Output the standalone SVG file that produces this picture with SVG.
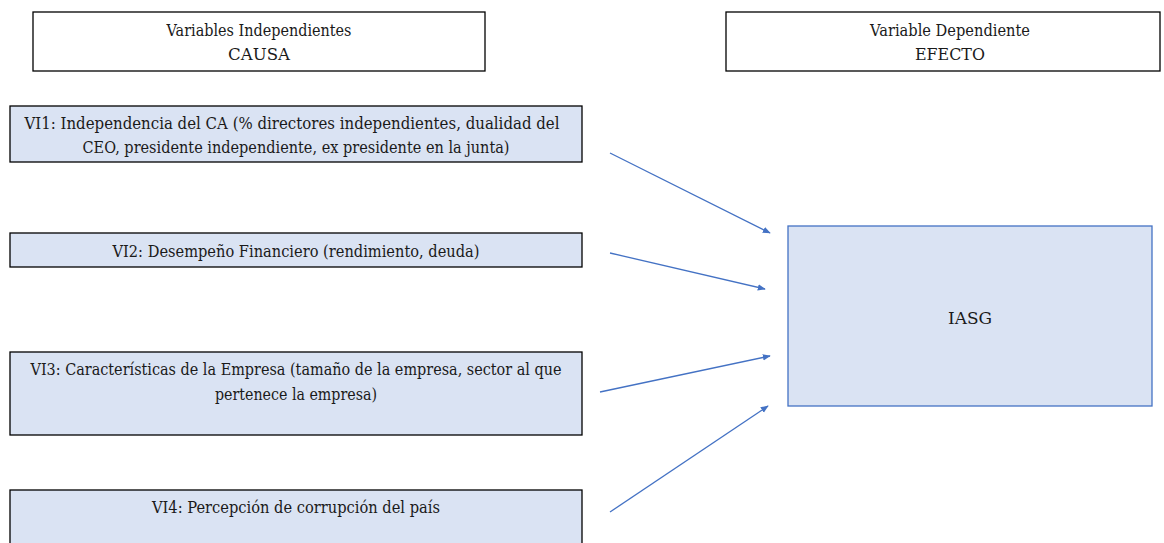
<svg xmlns="http://www.w3.org/2000/svg" width="1164" height="543" viewBox="0 0 1164 543">
<style>
.hdr{fill:#ffffff;stroke:#000000;stroke-width:1.3}
.vi{fill:#dae3f3;stroke:#000000;stroke-width:1.3}
.dep{fill:#dae3f3;stroke:#4472c4;stroke-width:1.3}
text{font-family:'DejaVu Serif',serif;font-size:17px;fill:#1a1a1a;text-anchor:middle}
.conn line{stroke:#4472c4;stroke-width:1.3;marker-end:url(#arr)}
</style>
<defs>
<marker id="arr" viewBox="0 0 10 10" refX="9" refY="5" markerWidth="8" markerHeight="8" orient="auto" markerUnits="userSpaceOnUse">
<path d="M0,1 L10,5 L0,9 z" fill="#4472c4"/>
</marker>
</defs>
<g id="hdr-causa">
<rect class="hdr" x="33" y="12" width="452" height="59"/>
<text x="259" y="36" textLength="185" lengthAdjust="spacingAndGlyphs">Variables Independientes</text>
<text x="259" y="60" textLength="62" lengthAdjust="spacingAndGlyphs">CAUSA</text>
</g>
<g id="hdr-efecto">
<rect class="hdr" x="726" y="12" width="434" height="59"/>
<text x="950" y="36" textLength="160" lengthAdjust="spacingAndGlyphs">Variable Dependiente</text>
<text x="950" y="60" textLength="70" lengthAdjust="spacingAndGlyphs">EFECTO</text>
</g>
<g id="vi1">
<rect class="vi" x="10" y="106" width="572" height="56"/>
<text x="292" y="129" textLength="535" lengthAdjust="spacingAndGlyphs">VI1: Independencia del CA (% directores independientes, dualidad del</text>
<text x="296" y="153" textLength="427" lengthAdjust="spacingAndGlyphs">CEO, presidente independiente, ex presidente en la junta)</text>
</g>
<g id="vi2">
<rect class="vi" x="10" y="233" width="572" height="34"/>
<text x="296" y="257" textLength="367" lengthAdjust="spacingAndGlyphs">VI2: Desempeño Financiero (rendimiento, deuda)</text>
</g>
<g id="vi3">
<rect class="vi" x="10" y="352" width="572" height="83"/>
<text x="296" y="375" textLength="531" lengthAdjust="spacingAndGlyphs">VI3: Características de la Empresa (tamaño de la empresa, sector al que</text>
<text x="296" y="400" textLength="162" lengthAdjust="spacingAndGlyphs">pertenece la empresa)</text>
</g>
<g id="vi4">
<rect class="vi" x="10" y="490" width="572" height="60"/>
<text x="296" y="513" textLength="288" lengthAdjust="spacingAndGlyphs">VI4: Percepción de corrupción del país</text>
</g>
<g id="iasg">
<rect class="dep" x="788" y="226" width="364" height="180"/>
<text x="970" y="324" textLength="44" lengthAdjust="spacingAndGlyphs">IASG</text>
</g>
<g id="connectors" class="conn">
<line x1="610" y1="153" x2="770" y2="233"/>
<line x1="610" y1="253" x2="765" y2="289"/>
<line x1="600" y1="392" x2="770" y2="356"/>
<line x1="610" y1="512" x2="768" y2="406"/>
</g>
</svg>
